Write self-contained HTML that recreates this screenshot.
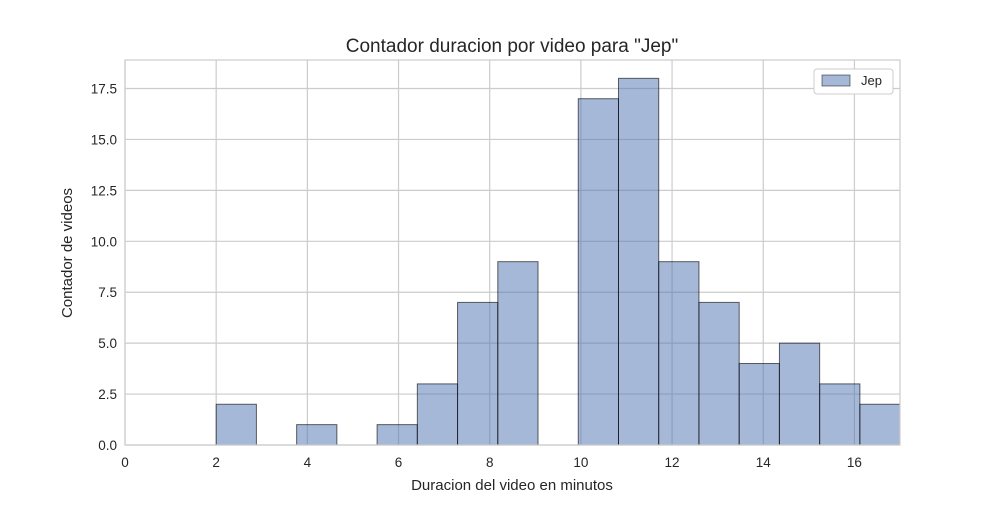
<!DOCTYPE html>
<html><head><meta charset="utf-8"><style>
body{margin:0;background:#fff;}
svg{font-family:"Liberation Sans",Arial,sans-serif;}
</style></head><body>
<svg id="chart" width="1000" height="500">
<rect x="0" y="0" width="1000" height="500" fill="#fff"/>
<g id="grid"></g>
<g id="bars"></g>
<g id="ticks"></g>
<rect x="125" y="60" width="775" height="385" fill="none" stroke="#cccccc" stroke-width="1.2"/>
<text x="512" y="52" text-anchor="middle" font-size="19" fill="#262626">Contador duracion por video para "Jep"</text>
<text x="512" y="490" text-anchor="middle" font-size="15" fill="#262626">Duracion del video en minutos</text>
<text x="72" y="253" text-anchor="middle" font-size="15" fill="#262626" transform="rotate(-90 72 253)">Contador de videos</text>
<g>
<rect x="814" y="69" width="79" height="25" rx="3" fill="#fff" stroke="#cccccc"/>
<rect x="822" y="75" width="28" height="11" fill="#4c72b0" fill-opacity="0.5" stroke="#000" stroke-opacity="0.6" stroke-width="0.8"/>
<text x="861" y="85" font-size="13" fill="#262626">Jep</text>
</g>
</svg>
<script>
const binStarts=[2.0,2.8825,3.765,4.6475,5.53,6.4125,7.295,8.1775,9.06,9.9425,10.825,11.7075,12.59,13.4725,14.355,15.2375,16.12];
const binWidth=0.8825;
const counts=[2,0,1,0,1,3,7,9,0,17,18,9,7,4,5,3,2];
const xTicks=[0,2,4,6,8,10,12,14,16];
const yTicks=[0,2.5,5,7.5,10,12.5,15,17.5];
const yTickLabels=["0.0","2.5","5.0","7.5","10.0","12.5","15.0","17.5"];
const X0=125,X1=900,Y0=445,Y1=60,xMax=17,yMax=18.9;
const sx=v=>X0+v/xMax*(X1-X0);
const sy=v=>Y0-v/yMax*(Y0-Y1);
const NS="http://www.w3.org/2000/svg";
function mk(tag,attrs,parent){const e=document.createElementNS(NS,tag);for(const k in attrs)e.setAttribute(k,attrs[k]);parent.appendChild(e);return e;}
const grid=document.getElementById('grid'),bars=document.getElementById('bars'),ticks=document.getElementById('ticks');
xTicks.forEach(t=>{
 const l=mk('line',{x1:sx(t),x2:sx(t),y1:Y1,y2:Y0,stroke:'#cccccc','stroke-width':1.2},grid);
 
 
 const tx=mk('text',{x:sx(t),y:Y0+22,'text-anchor':'middle','font-size':13.5,fill:'#262626'},ticks);
 tx.textContent=t;
 
 
});
yTicks.forEach((t,i)=>{
 const l=mk('line',{x1:X0,x2:X1,y1:sy(t),y2:sy(t),stroke:'#cccccc','stroke-width':1.2},grid);
 
 
 const tx=mk('text',{x:X0-8,y:sy(t)+5,'text-anchor':'end','font-size':13.5,fill:'#262626'},ticks);
 tx.textContent=yTickLabels[i];
 
 
});
binStarts.forEach((b,i)=>{
 if(counts[i]<=0)return;
 const x=sx(b),x2=Math.min(sx(b+binWidth),X1);
 const r=mk('rect',{x:x,y:sy(counts[i]),width:x2-x,height:Y0-sy(counts[i]),fill:'#4c72b0','fill-opacity':0.5,stroke:'#000','stroke-width':1,'stroke-opacity':0.6},bars);
 
 
});
</script>
</body></html>
